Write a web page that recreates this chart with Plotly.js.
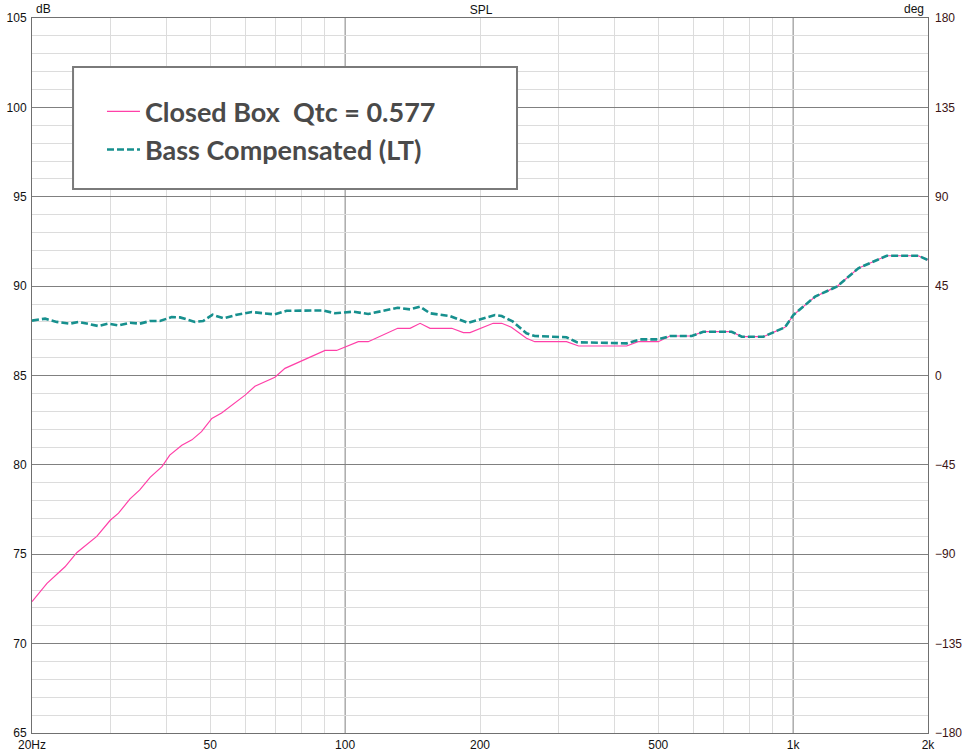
<!DOCTYPE html>
<html>
<head>
<meta charset="utf-8">
<script src="https://cdn.plot.ly/plotly-3.0.1.min.js"></script>
<style>html,body{margin:0;padding:0;background:#fff;}#chart{width:962px;height:752px;}</style>
</head>
<body>
<div id="chart"></div>
<script>
// Closed box (pink) – low-frequency part
const closedFreq = [20, 21.6, 23.7, 25.2, 27.9, 29.9, 31.2, 33.1, 34.8, 36.7, 39.0, 40.6, 43.2, 45.5, 47.8, 50.4, 53.0, 59.8, 62.9, 69.7, 73.4, 90.2, 95.7, 100.8, 107, 112.6, 131, 139.6, 147, 154.7, 173, 183.6, 190, 214, 223.6, 235, 254, 265, 312, 332, 425, 451, 500];
const closedSPL  = [72.35, 73.37, 74.3, 75.1, 76.0, 76.9, 77.3, 78.1, 78.6, 79.3, 79.9, 80.55, 81.1, 81.4, 81.86, 82.6, 82.9, 83.9, 84.4, 84.9, 85.4, 86.4, 86.4, 86.61, 86.89, 86.89, 87.64, 87.64, 87.92, 87.64, 87.64, 87.4, 87.4, 87.92, 87.92, 87.7, 87.08, 86.89, 86.89, 86.65, 86.65, 86.89, 86.89];

// Bass compensated (teal) – low-frequency part
const compFreq = [20, 21.4, 22.7, 24.3, 25.4, 28.1, 29.6, 31.2, 33.1, 34.8, 36.7, 38.6, 41.0, 42.8, 46.2, 48.2, 50.6, 53.5, 57.3, 61.9, 65.7, 69.7, 74.0, 89.3, 94.9, 104.3, 112.6, 131, 139.6, 147, 154.7, 171, 188, 216, 223.6, 237, 254, 265, 312, 329, 425, 455, 500];
const compSPL  = [88.07, 88.18, 88.0, 87.9, 88.0, 87.77, 87.9, 87.8, 87.95, 87.9, 88.05, 88.05, 88.27, 88.25, 88.0, 88.05, 88.4, 88.2, 88.4, 88.55, 88.48, 88.42, 88.62, 88.64, 88.48, 88.57, 88.44, 88.79, 88.70, 88.85, 88.48, 88.33, 87.95, 88.38, 88.33, 88.01, 87.36, 87.21, 87.14, 86.86, 86.80, 87.02, 87.02];

// Shared upper part (both curves coincide above ~500 Hz)
const sharedFreq = [531, 594, 630, 729, 768, 858, 903, 959, 1001, 1054, 1119, 1251, 1328, 1398, 1618, 1902, 2000];
const sharedSPL  = [87.21, 87.21, 87.45, 87.45, 87.17, 87.17, 87.41, 87.70, 88.38, 88.85, 89.41, 89.97, 90.53, 91.0, 91.7, 91.7, 91.46];

const xTickVals = [20, 50, 100, 200, 500, 1000, 2000];
const xTickText = ['20Hz', '50', '100', '200', '500', '1k', '2k'];
const xMinorVals = [30, 40, 50, 60, 70, 80, 90, 200, 300, 400, 500, 600, 700, 800, 900];
const xMajorLines = [100, 1000];
const yLeftTicks = [65, 70, 75, 80, 85, 90, 95, 100, 105];
const yRightTicks = [-180, -135, -90, -45, 0, 45, 90, 135, 180];

const traces = [
  {
    x: closedFreq.concat(sharedFreq), y: closedSPL.concat(sharedSPL),
    type: 'scatter', mode: 'lines', name: 'Closed Box  Qtc = 0.577',
    line: {color: '#ff40a8', width: 1.2}
  },
  {
    x: compFreq.concat(sharedFreq), y: compSPL.concat(sharedSPL),
    type: 'scatter', mode: 'lines', name: 'Bass Compensated (LT)',
    line: {color: '#17908e', width: 2.6, dash: '7px,3px'}
  },
  {
    x: [20, 2000], y: [0, 0], yaxis: 'y2', type: 'scatter', mode: 'lines',
    line: {width: 0}, showlegend: false, hoverinfo: 'skip', opacity: 0
  }
];

const gridDark = '#808080';
const gridLight = '#dcdcdc';
const tickFont = {family: 'Liberation Sans, Arial, sans-serif', size: 12, color: '#111'};

const shapes = xMajorLines.map(v => ({
  type: 'line', xref: 'x', yref: 'paper', x0: v, x1: v, y0: 0, y1: 1,
  line: {color: gridDark, width: 1}, layer: 'below'
}));
shapes.push({
  type: 'rect', xref: 'paper', yref: 'paper',
  x0: 0.0458, x1: 0.5413, y0: 0.7608, y1: 0.9315,
  fillcolor: '#ffffff', line: {color: '#7a7a7a', width: 2}, layer: 'above'
});

const layout = {
  width: 962, height: 752,
  margin: {l: 32, r: 34, t: 18, b: 19, pad: 0},
  paper_bgcolor: '#ffffff', plot_bgcolor: '#ffffff',
  showlegend: true,
  title: {text: 'SPL', font: {family: 'Liberation Sans, Arial, sans-serif', size: 12, color: '#111'}, x: 0.5, xanchor: 'center', y: 0.992, yanchor: 'top'},
  xaxis: {
    type: 'log', range: [Math.log10(20), Math.log10(2000)],
    tickvals: xTickVals, ticktext: xTickText, ticks: '', ticklen: 0,
    tickfont: tickFont, showgrid: false, zeroline: false,
    showline: true, linecolor: '#707070', linewidth: 1, mirror: true,
    minor: {tickvals: xMinorVals, showgrid: true, gridcolor: gridLight, gridwidth: 1, ticks: ''},
    ticklabelstandoff: 1,
    fixedrange: true
  },
  yaxis: {
    range: [65, 105], tickvals: yLeftTicks, ticks: '', tickfont: tickFont,
    showgrid: true, gridcolor: gridDark, gridwidth: 1, zeroline: false,
    showline: true, linecolor: '#707070', linewidth: 1, mirror: true,
    minor: {dtick: 1, showgrid: true, gridcolor: gridLight, gridwidth: 1, ticks: ''},
    ticklabelstandoff: 2,
    fixedrange: true
  },
  yaxis2: {
    overlaying: 'y', side: 'right', range: [-180, 180], tickvals: yRightTicks,
    ticks: '', showgrid: false, zeroline: false, showline: false,
    tickfont: {family: 'Liberation Sans, Arial, sans-serif', size: 12, color: '#3b1414'},
    ticklabelstandoff: 6,
    fixedrange: true
  },
  legend: {
    x: 0.0781, xanchor: 'left', y: 0.903, yanchor: 'top',
    bgcolor: 'rgba(0,0,0,0)', borderwidth: 0,
    font: {family: 'Lato, sans-serif', size: 27, color: '#4a4a4a', weight: 'bold'},
    itemwidth: 33, tracegroupgap: 0
  },
  shapes: shapes,
  annotations: [
    {text: 'dB', xref: 'paper', yref: 'paper', x: 0.002, y: 1, xanchor: 'left', yanchor: 'bottom', showarrow: false, font: {family: 'Liberation Sans, Arial, sans-serif', size: 12, color: '#111'}},
    {text: 'deg', xref: 'paper', yref: 'paper', x: 0.998, y: 1, xanchor: 'right', yanchor: 'bottom', showarrow: false, font: {family: 'Liberation Sans, Arial, sans-serif', size: 12, color: '#111'}}
  ]
};

Plotly.newPlot('chart', traces, layout, {displayModeBar: false, staticPlot: true});
</script>
</body>
</html>
